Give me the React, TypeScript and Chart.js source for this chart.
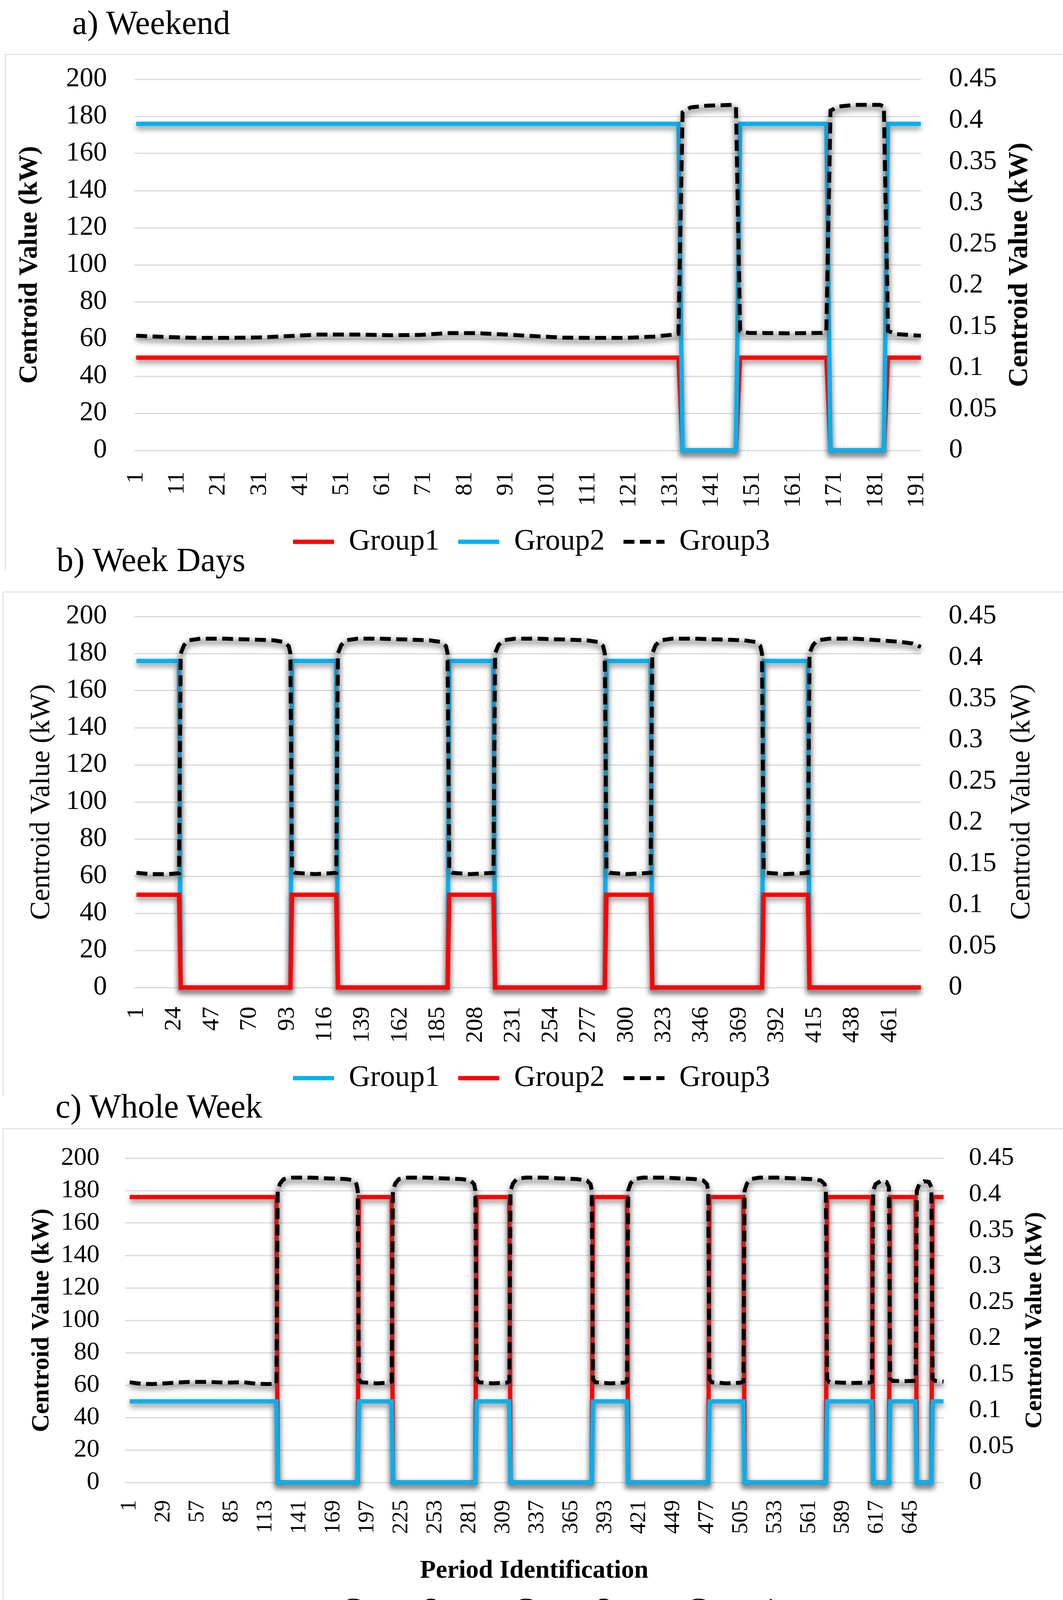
import React, { useEffect, useRef } from "react";
import { Chart, registerables } from "chart.js";

Chart.register(...registerables);

const SERIF = '"Liberation Serif", "Times New Roman", serif';
const RED = "#ff0000";
const BLUE = "#00b0f0";
const BLACK = "#000000";
const GRID = "#d9d9d9";

Chart.defaults.font.family = SERIF;
Chart.defaults.color = BLACK;

// axes shared by the three panels
const leftTicks = [0, 20, 40, 60, 80, 100, 120, 140, 160, 180, 200];
const rightTicks = [0, 0.05, 0.1, 0.15, 0.2, 0.25, 0.3, 0.35, 0.4, 0.45];
const rightTickLabels = ["0", "0.05", "0.1", "0.15", "0.2", "0.25", "0.3", "0.35", "0.4", "0.45"];

// a) Weekend (192 periods)
const weekendTicks = [1, 11, 21, 31, 41, 51, 61, 71, 81, 91, 101, 111, 121, 131, 141, 151, 161, 171, 181, 191];
const weekendSteps = [1, 133, 134, 147, 148, 169, 170, 183, 184, 192];
const weekendGroup1 = [50, 50, 0, 0, 50, 50, 0, 0, 50, 50];
const weekendGroup2 = [176, 176, 0, 0, 176, 176, 0, 0, 176, 176];
const weekendGroup3Periods = [
  1, 8, 16, 24, 31, 38, 45, 55, 63, 70, 77, 84, 91, 98, 105, 113, 120, 127, 132, 133,
  134, 136, 140, 146, 147,
  148, 150, 160, 168, 169,
  170, 172, 176, 182, 183,
  184, 186, 192,
];
const weekendGroup3 = [
  0.139, 0.1375, 0.1364, 0.1364, 0.137, 0.1385, 0.1404, 0.1404, 0.1396, 0.14, 0.1422, 0.1422, 0.1404, 0.1385, 0.1367, 0.1364, 0.1364, 0.138, 0.1405, 0.1415,
  0.41, 0.416, 0.418, 0.419, 0.417,
  0.145, 0.1425, 0.142, 0.1425, 0.144,
  0.412, 0.417, 0.419, 0.419, 0.417,
  0.145, 0.141, 0.139,
];

// b) Week Days (480 periods)
const weekdayTicks = [1, 24, 47, 70, 93, 116, 139, 162, 185, 208, 231, 254, 277, 300, 323, 346, 369, 392, 415, 438, 461];
const weekdaySteps = [1, 27, 28, 95, 96, 123, 124, 191, 192, 219, 220, 287, 288, 315, 316, 383, 384, 411, 412, 480];
const weekdayGroup1 = [176, 176, 0, 0, 176, 176, 0, 0, 176, 176, 0, 0, 176, 176, 0, 0, 176, 176, 0, 0];
const weekdayGroup2 = [50, 50, 0, 0, 50, 50, 0, 0, 50, 50, 0, 0, 50, 50, 0, 0, 50, 50, 0, 0];
const weekdayGroup3Periods = [
  1, 10, 20, 27,
  28, 30, 33, 40, 55, 70, 85, 91, 94, 95,
  96, 98, 110, 123,
  124, 126, 129, 136, 150, 165, 180, 187, 190, 191,
  192, 194, 205, 219,
  220, 222, 225, 232, 246, 261, 276, 283, 286, 287,
  288, 290, 300, 315,
  316, 318, 321, 328, 342, 357, 372, 379, 382, 383,
  384, 386, 397, 411,
  412, 414, 417, 424, 440, 455, 468, 475, 480,
];
const weekdayGroup3 = [
  0.139, 0.1375, 0.1375, 0.1385,
  0.405, 0.415, 0.421, 0.423, 0.423, 0.422, 0.421, 0.419, 0.414, 0.405,
  0.142, 0.139, 0.1375, 0.139,
  0.405, 0.415, 0.421, 0.423, 0.423, 0.422, 0.421, 0.419, 0.414, 0.405,
  0.142, 0.139, 0.1375, 0.139,
  0.405, 0.415, 0.421, 0.423, 0.423, 0.422, 0.421, 0.419, 0.414, 0.405,
  0.142, 0.139, 0.1375, 0.139,
  0.405, 0.415, 0.421, 0.423, 0.423, 0.422, 0.421, 0.419, 0.414, 0.405,
  0.142, 0.139, 0.1375, 0.139,
  0.405, 0.415, 0.421, 0.423, 0.423, 0.421, 0.419, 0.417, 0.413,
];

// c) Whole Week (672 periods)
const wholeWeekTicks = [1, 29, 57, 85, 113, 141, 169, 197, 225, 253, 281, 309, 337, 365, 393, 421, 449, 477, 505, 533, 561, 589, 617, 645];
const wholeWeekSteps = [1, 122, 123, 189, 190, 217, 218, 286, 287, 314, 315, 382, 383, 411, 412, 478, 479, 507, 508, 575, 576, 613, 614, 627, 628, 649, 650, 662, 663, 672];
const wholeWeekGroup2 = [176, 176, 0, 0, 176, 176, 0, 0, 176, 176, 0, 0, 176, 176, 0, 0, 176, 176, 0, 0, 176, 176, 0, 0, 176, 176, 0, 0, 176, 176];
const wholeWeekGroup3 = [50, 50, 0, 0, 50, 50, 0, 0, 50, 50, 0, 0, 50, 50, 0, 0, 50, 50, 0, 0, 50, 50, 0, 0, 50, 50, 0, 0, 50, 50];
const wholeWeekGroup1Periods = [
  1, 10, 20, 35, 50, 65, 80, 95, 105, 115, 122,
  123, 125, 128, 135, 150, 165, 180, 186, 188, 189,
  190, 192, 205, 215, 217,
  218, 220, 223, 230, 245, 260, 275, 282, 285, 286,
  287, 289, 300, 312, 314,
  315, 317, 320, 327, 342, 357, 370, 378, 381, 382,
  383, 385, 397, 409, 411,
  412, 414, 417, 424, 440, 455, 467, 474, 477, 478,
  479, 481, 493, 505, 507,
  508, 510, 513, 520, 535, 550, 563, 571, 574, 575,
  576, 578, 595, 611, 613,
  614, 616, 620, 625, 627,
  628, 630, 640, 649,
  650, 652, 656, 660, 662,
  663, 665, 672,
];
const wholeWeekGroup1 = [
  0.139, 0.137, 0.1365, 0.138, 0.1395, 0.1395, 0.1385, 0.139, 0.137, 0.1365, 0.137,
  0.405, 0.415, 0.421, 0.423, 0.423, 0.422, 0.421, 0.419, 0.414, 0.405,
  0.143, 0.139, 0.1375, 0.1385, 0.14,
  0.405, 0.415, 0.421, 0.423, 0.423, 0.422, 0.421, 0.419, 0.414, 0.405,
  0.143, 0.139, 0.1375, 0.1385, 0.14,
  0.405, 0.415, 0.421, 0.423, 0.423, 0.422, 0.421, 0.419, 0.414, 0.405,
  0.143, 0.139, 0.1375, 0.1385, 0.14,
  0.405, 0.415, 0.421, 0.423, 0.423, 0.422, 0.421, 0.419, 0.414, 0.405,
  0.143, 0.139, 0.1375, 0.1385, 0.14,
  0.405, 0.415, 0.421, 0.423, 0.423, 0.422, 0.421, 0.419, 0.414, 0.405,
  0.143, 0.139, 0.138, 0.1385, 0.14,
  0.405, 0.414, 0.418, 0.417, 0.41,
  0.144, 0.141, 0.1405, 0.141,
  0.405, 0.414, 0.418, 0.417, 0.41,
  0.144, 0.141, 0.14,
];

interface SeriesSpec {
  label: string;
  periods: number[];
  values: number[];
  color: string;
  axis: "y" | "y1";
  dashed?: boolean;
}

interface PanelSpec {
  top: number;
  height: number;
  padTop: number;
  leftWidth: number;
  rightWidth: number;
  xHeight: number;
  xMin: number;
  xMax: number;
  xTicks: number[];
  xTickPadding: number;
  xTickSize: number;
  yTickSize: number;
  yTickPadding: number;
  y1TickPadding: number;
  bold: boolean;
  leftTitleSize: number;
  leftTitlePad: number;
  rightTitleSize: number;
  rightTitleX: number;
  xTitle?: string;
  series: SeriesSpec[];
}

const panels: PanelSpec[] = [
  {
    top: 140, height: 1295, padTop: 63, leftWidth: 344, rightWidth: 364, xHeight: 148,
    xMin: 0.55, xMax: 192, xTicks: weekendTicks, xTickPadding: 54, xTickSize: 62,
    yTickSize: 70, yTickPadding: 70, y1TickPadding: 72,
    bold: true, leftTitleSize: 68, leftTitlePad: 36, rightTitleSize: 70, rightTitleX: 2612,
    series: [
      { label: "Group1", periods: weekendSteps, values: weekendGroup1, color: RED, axis: "y" },
      { label: "Group2", periods: weekendSteps, values: weekendGroup2, color: BLUE, axis: "y" },
      { label: "Group3", periods: weekendGroup3Periods, values: weekendGroup3, color: BLACK, axis: "y1", dashed: true },
    ],
  },
  {
    top: 1514, height: 1294, padTop: 64, leftWidth: 344, rightWidth: 364, xHeight: 146,
    xMin: -0.3, xMax: 480, xTicks: weekdayTicks, xTickPadding: 49, xTickSize: 62,
    yTickSize: 70, yTickPadding: 70, y1TickPadding: 71,
    bold: false, leftTitleSize: 72, leftTitlePad: 64, rightTitleSize: 72, rightTitleX: 2617,
    series: [
      { label: "Group1", periods: weekdaySteps, values: weekdayGroup1, color: BLUE, axis: "y" },
      { label: "Group2", periods: weekdaySteps, values: weekdayGroup2, color: RED, axis: "y" },
      { label: "Group3", periods: weekdayGroup3Periods, values: weekdayGroup3, color: BLACK, axis: "y1", dashed: true },
    ],
  },
  {
    top: 2888, height: 1283, padTop: 77, leftWidth: 320, rightWidth: 306, xHeight: 242,
    xMin: -2.9, xMax: 672, xTicks: wholeWeekTicks, xTickPadding: 45, xTickSize: 58,
    yTickSize: 66, yTickPadding: 65, y1TickPadding: 65,
    bold: true, leftTitleSize: 64, leftTitlePad: 69, rightTitleSize: 62, rightTitleX: 2650,
    xTitle: "Period Identification",
    series: [
      { label: "Group 2", periods: wholeWeekSteps, values: wholeWeekGroup2, color: RED, axis: "y" },
      { label: "Group 3", periods: wholeWeekSteps, values: wholeWeekGroup3, color: BLUE, axis: "y" },
      { label: "Group1", periods: wholeWeekGroup1Periods, values: wholeWeekGroup1, color: BLACK, axis: "y1", dashed: true },
    ],
  },
];

const panelTitles = [
  { text: "a) Weekend", left: 185, top: 15 },
  { text: "b) Week Days", left: 145, top: 1390 },
  { text: "c) Whole Week", left: 142, top: 2789 },
];

// Excel-like soft shadow under the lines: the line path is stroked once more,
// blurred and grey, just below where the dataset itself is drawn
const lineShadow = {
  id: "lineShadow",
  beforeDatasetDraw(chart: any, args: any) {
    const line = args.meta.dataset;
    if (!line) return;
    const ctx = chart.ctx;
    const saved = line.options;
    ctx.save();
    ctx.filter = "blur(7px)";
    ctx.translate(0, 8);
    line.options = Object.assign(Object.create(saved), {
      borderColor: "rgba(90, 90, 90, 0.55)",
      borderDash: [],
      borderWidth: saved.borderWidth + 4,
    });
    line.draw(ctx, chart.chartArea);
    line.options = saved;
    ctx.restore();
  },
};

// secondary axis title, reading bottom to top
const rightTitle = {
  id: "rightTitle",
  afterDraw(chart: any, _args: any, opts: any) {
    if (!opts || !opts.text) return;
    const { ctx, chartArea } = chart;
    ctx.save();
    ctx.translate(opts.x, (chartArea.top + chartArea.bottom) / 2);
    ctx.rotate(-Math.PI / 2);
    ctx.font = `${opts.weight} ${opts.size}px ${SERIF}`;
    ctx.fillStyle = BLACK;
    ctx.textAlign = "center";
    ctx.textBaseline = "middle";
    ctx.fillText(opts.text, 0, 0);
    ctx.restore();
  },
};

function legendLabels(chart: any) {
  const items = (Chart.defaults.plugins.legend.labels as any).generateLabels(chart);
  return items.map((it: any) => {
    const ds = chart.data.datasets[it.datasetIndex];
    return { ...it, lineDash: ds.borderDash, lineWidth: ds.borderWidth, strokeStyle: ds.borderColor };
  });
}

function CentroidPanel({ spec }: { spec: PanelSpec }): React.JSX.Element {
  const canvasRef = useRef<HTMLCanvasElement | null>(null);

  useEffect(() => {
    if (!canvasRef.current) return;
    const n = spec.series.length;
    const datasets = spec.series.map((s, i) => ({
      label: s.label,
      data: s.periods.map((p, j) => ({ x: p, y: s.values[j] })),
      borderColor: s.color,
      backgroundColor: s.color,
      borderWidth: s.dashed ? 10 : 11,
      borderDash: s.dashed ? [28, 14] : [],
      pointRadius: 0,
      tension: 0,
      clip: false,
      yAxisID: s.axis,
      order: n - 1 - i,
    }));
    const weight = spec.bold ? "bold" : "normal";

    const chart = new Chart(canvasRef.current, {
      type: "line",
      data: { datasets } as any,
      options: {
        responsive: false,
        animation: false,
        events: [],
        layout: { padding: { top: spec.padTop, left: 0, right: 0, bottom: 0 } },
        scales: {
          x: {
            type: "linear",
            min: spec.xMin,
            max: spec.xMax,
            afterBuildTicks: (s: any) => {
              s.ticks = spec.xTicks.map((v) => ({ value: v }));
            },
            afterFit: (s: any) => {
              s.height = spec.xHeight;
              s.paddingLeft = 0;
              s.paddingRight = 0;
            },
            ticks: {
              autoSkip: false,
              minRotation: 90,
              maxRotation: 90,
              padding: spec.xTickPadding,
              font: { size: spec.xTickSize },
              color: BLACK,
              callback: (v: any) => String(v),
            },
            grid: { display: false, drawTicks: false },
            border: { display: false },
            title: {
              display: !!spec.xTitle,
              text: spec.xTitle || "",
              color: BLACK,
              font: { size: 66, weight: "bold", lineHeight: 1 },
              padding: { top: 0, bottom: -18 },
            },
          },
          y: {
            position: "left",
            min: 0,
            max: 200,
            afterBuildTicks: (s: any) => {
              s.ticks = leftTicks.map((v) => ({ value: v }));
            },
            afterFit: (s: any) => {
              s.width = spec.leftWidth;
              s.paddingTop = 0;
              s.paddingBottom = 0;
            },
            ticks: {
              autoSkip: false,
              padding: spec.yTickPadding,
              font: { size: spec.yTickSize },
              color: BLACK,
              callback: (v: any) => String(v),
            },
            grid: { color: GRID, lineWidth: 3, drawTicks: false },
            border: { display: false },
            title: {
              display: true,
              text: "Centroid Value (kW)",
              color: BLACK,
              font: { size: spec.leftTitleSize, weight },
              padding: { top: spec.leftTitlePad, bottom: 0 },
            },
          },
          y1: {
            position: "right",
            min: 0,
            max: 0.45,
            afterBuildTicks: (s: any) => {
              s.ticks = rightTicks.map((v) => ({ value: v }));
            },
            afterFit: (s: any) => {
              s.width = spec.rightWidth;
              s.paddingTop = 0;
              s.paddingBottom = 0;
            },
            ticks: {
              autoSkip: false,
              padding: spec.y1TickPadding,
              font: { size: spec.yTickSize },
              color: BLACK,
              callback: (_v: any, i: number) => rightTickLabels[i],
            },
            grid: { drawOnChartArea: false, drawTicks: false },
            border: { display: false },
          },
        },
        plugins: {
          legend: {
            position: "bottom",
            labels: {
              usePointStyle: true,
              pointStyle: "line",
              pointStyleWidth: 105,
              padding: 48,
              color: BLACK,
              font: { size: 76 },
              generateLabels: legendLabels,
              sort: (a: any, b: any) => a.datasetIndex - b.datasetIndex,
            },
          },
          tooltip: { enabled: false },
          rightTitle: {
            text: "Centroid Value (kW)",
            x: spec.rightTitleX,
            size: spec.rightTitleSize,
            weight,
          },
        } as any,
      } as any,
      plugins: [lineShadow, rightTitle],
    });

    return () => {
      chart.destroy();
    };
  }, [spec]);

  return (
    <canvas
      ref={canvasRef}
      width={2722}
      height={spec.height}
      style={{ position: "absolute", left: 0, top: spec.top, width: 2722, height: spec.height }}
    />
  );
}

export default function App(): React.JSX.Element {
  const frame = (left: number, top: number, height: number) => ({
    position: "absolute" as const,
    left,
    top,
    width: 2722 - left,
    height,
    borderTop: "3px solid #e4e4e4",
    borderLeft: "3px solid #e4e4e4",
    boxSizing: "border-box" as const,
  });

  return (
    <div
      style={{
        position: "absolute",
        left: 0,
        top: 0,
        width: 2722,
        height: 4211,
        overflow: "hidden",
        background: "#ffffff",
      }}
    >
      <div style={frame(12, 138, 1325)} />
      <div style={frame(6, 1514, 1290)} />
      <div style={frame(6, 2888, 1323)} />
      {panels.map((p, i) => (
        <CentroidPanel key={i} spec={p} />
      ))}
      {panelTitles.map((t) => (
        <div
          key={t.text}
          style={{
            position: "absolute",
            left: t.left,
            top: t.top,
            fontFamily: SERIF,
            fontSize: 86,
            lineHeight: 1,
            color: BLACK,
            whiteSpace: "nowrap",
          }}
        >
          {t.text}
        </div>
      ))}
    </div>
  );
}
